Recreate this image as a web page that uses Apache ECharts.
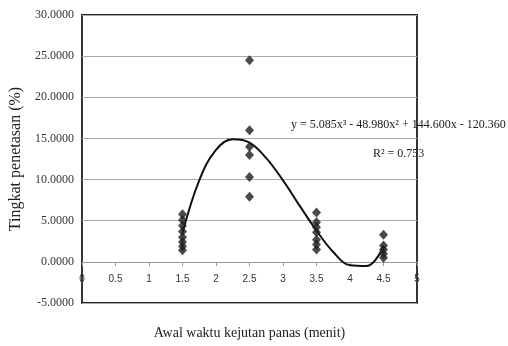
<!DOCTYPE html>
<html>
<head>
<meta charset="utf-8">
<script src="https://cdn.jsdelivr.net/npm/echarts@6/dist/echarts.min.js"></script>
<style>
  html, body { margin: 0; padding: 0; background: #fff; }
  #chart { width: 508px; height: 346px; }
</style>
</head>
<body>
<div id="chart"></div>
<script>
// observed points, grouped by x value
const xGroups = [1.5, 2.5, 3.5, 4.5];
const yGroups = [
  [5.8, 5.1, 4.4, 3.7, 3.0, 2.4, 1.9, 1.4],
  [24.5, 16.0, 14.0, 13.0, 10.3, 7.9],
  [6.0, 4.8, 4.2, 3.6, 2.7, 2.1, 1.5],
  [3.3, 2.0, 1.5, 1.0, 0.5]
];
// trend line
const trendX = [1.5, 1.75, 2.0, 2.25, 2.5, 2.75, 3.0, 3.25, 3.5, 3.75, 4.0, 4.25, 4.5];
const trendY = [3.5, 9.9, 13.6, 14.9, 14.5, 12.6, 9.9, 6.8, 3.8, 1.2, -0.4, -0.5, 1.9];
const equationText = 'y = 5.085x\u00b3 - 48.980x\u00b2 + 144.600x - 120.360';
const r2Text = 'R\u00b2 = 0.753';

const points = [];
xGroups.forEach((x, i) => yGroups[i].forEach((y) => points.push([x, y])));
const trend = trendX.map((x, i) => [x, trendY[i]]);

const serif = '"Liberation Serif", "DejaVu Serif", serif';
const chart = echarts.init(document.getElementById('chart'));
chart.setOption({
  animation: false,
  grid: {
    left: 82, right: 91, top: 15, bottom: 43,
    outerBoundsMode: 'none',
    show: true, borderColor: '#222', borderWidth: 1.8
  },
  xAxis: {
    type: 'value',
    min: 0, max: 5, interval: 0.5,
    position: 'bottom',
    offset: -41, // x axis drawn along y = 0
    name: 'Awal waktu kejutan panas (menit)',
    nameLocation: 'middle',
    nameGap: 64,
    nameTextStyle: { fontFamily: serif, fontSize: 14, color: '#222' },
    axisLine: { onZero: false, lineStyle: { color: '#999', width: 1 } },
    axisTick: { show: true, length: 4, lineStyle: { color: '#999' } },
    axisLabel: { fontFamily: '"Liberation Sans", Arial, sans-serif', fontSize: 10, color: '#333', margin: 12 },
    splitLine: { show: false }
  },
  yAxis: {
    type: 'value',
    min: -5, max: 30, interval: 5,
    name: 'Tingkat penetasan (%)',
    nameLocation: 'middle',
    nameGap: 52,
    nameTextStyle: { fontFamily: serif, fontSize: 16, color: '#222' },
    axisLine: { show: false, onZero: false },
    axisTick: { show: false },
    axisLabel: {
      fontFamily: serif, fontSize: 12, color: '#333', margin: 8,
      formatter: (v) => v.toFixed(4)
    },
    splitLine: { lineStyle: { color: '#aaa', width: 1 } }
  },
  series: [
    {
      type: 'line',
      data: trend,
      smooth: 0.4,
      symbol: 'none',
      lineStyle: { color: '#111', width: 2 },
      z: 3
    },
    {
      type: 'scatter',
      data: points,
      symbol: 'diamond',
      symbolSize: [9, 10],
      itemStyle: { color: '#1e1e1e' },
      z: 4
    }
  ],
  graphic: [
    {
      type: 'text', left: 291, top: 119,
      style: { text: equationText, font: '12px ' + serif, fill: '#222' }
    },
    {
      type: 'text', left: 373, top: 148,
      style: { text: r2Text, font: '12px ' + serif, fill: '#222' }
    }
  ]
});
</script>
</body>
</html>
